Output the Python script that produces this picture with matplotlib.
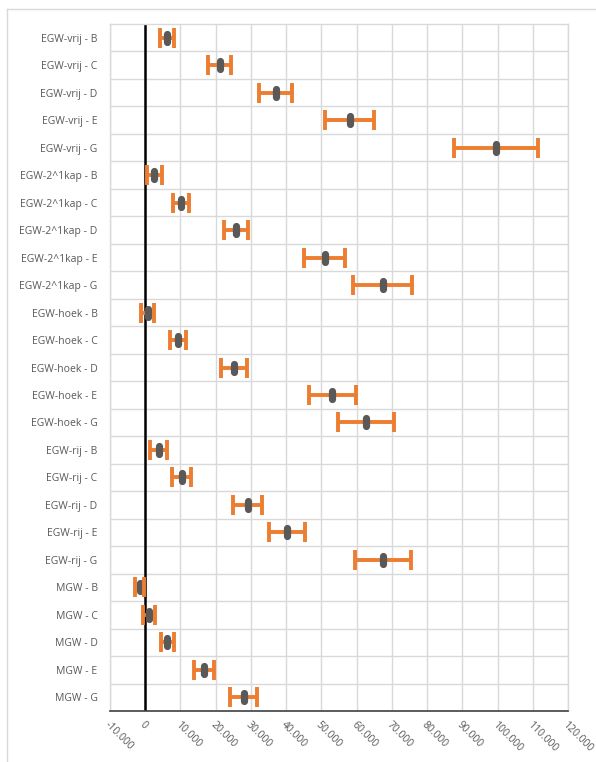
import matplotlib
matplotlib.use("Agg")
import matplotlib.pyplot as plt
from matplotlib.lines import Line2D
from matplotlib.markers import MarkerStyle
from matplotlib.ticker import FuncFormatter

# Categorieën (van boven naar beneden)
labels = [
    "EGW-vrij - B", "EGW-vrij - C", "EGW-vrij - D", "EGW-vrij - E", "EGW-vrij - G",
    "EGW-2^1kap - B", "EGW-2^1kap - C", "EGW-2^1kap - D", "EGW-2^1kap - E", "EGW-2^1kap - G",
    "EGW-hoek - B", "EGW-hoek - C", "EGW-hoek - D", "EGW-hoek - E", "EGW-hoek - G",
    "EGW-rij - B", "EGW-rij - C", "EGW-rij - D", "EGW-rij - E", "EGW-rij - G",
    "MGW - B", "MGW - C", "MGW - D", "MGW - E", "MGW - G",
]

# Gemiddelde waarden
means = [
    6200, 21100, 37000, 58000, 99500,
    2600, 10100, 25700, 50900, 67400,
    700, 9400, 25200, 53100, 62700,
    3800, 10300, 29100, 40200, 67600,
    -1600, 1100, 6300, 16700, 27900,
]

# Foutmarges (+/-)
errors = [
    2100, 3200, 4700, 6850, 11850,
    2100, 2200, 3400, 5800, 8300,
    1850, 2300, 3650, 6650, 7900,
    2400, 2750, 4100, 5150, 7950,
    1250, 1800, 1950, 2900, 3800,
]

xticks = list(range(-10000, 120001, 10000))

orange = "#ED7D31"
grey = "#595959"
grid_col = "#D9D9D9"

fig = plt.figure(figsize=(5.96, 7.62), dpi=100)
ax = fig.add_axes([110 / 596, 51 / 762, 458 / 596, 687 / 762])

ypos = list(range(len(labels)))

# Foutbalken
eb = ax.errorbar(means, ypos, xerr=errors, fmt="none", ecolor=orange,
                 elinewidth=2.8, capsize=7, capthick=2.8, zorder=3)
for cap in eb[1]:
    cap.set_zorder(5)

# Markers
marker = MarkerStyle("|", capstyle="round")
ax.plot(means, ypos, linestyle="none", marker=marker, markersize=6,
        markeredgewidth=5.2, color=grey, zorder=4)

# Nul-lijn
ax.axvline(0, color="black", linewidth=1.8, zorder=2)

ax.set_xlim(-10000, 120000)
ax.set_ylim(len(labels) - 0.5, -0.5)

ax.set_xticks(xticks)
ax.xaxis.set_major_formatter(FuncFormatter(lambda v, p: f"{int(v):,}".replace(",", ".")))
ax.set_yticks(ypos)
ax.set_yticklabels(labels)
ax.set_yticks([y + 0.5 for y in ypos[:-1]], minor=True)

ax.grid(axis="x", which="major", color=grid_col, linewidth=1.0, zorder=0)
ax.grid(axis="y", which="minor", color=grid_col, linewidth=1.0, zorder=0)
ax.set_axisbelow(True)

ax.tick_params(axis="both", which="both", length=0, colors=grey, labelsize=7.5)
ax.tick_params(axis="y", pad=9)
ax.tick_params(axis="x", pad=6)
for t in ax.get_xticklabels():
    t.set_rotation(-45)
    t.set_ha("left")
    t.set_va("top")
    t.set_rotation_mode("anchor")
for t in ax.get_yticklabels() + ax.get_xticklabels():
    t.set_fontfamily("Open Sans")

for side in ["left", "top", "right"]:
    ax.spines[side].set_color(grid_col)
    ax.spines[side].set_linewidth(1.0)
ax.spines["bottom"].set_color("#404040")
ax.spines["bottom"].set_linewidth(1.2)

# Kader rond de grafiek
fig.add_artist(Line2D([7 / 596, 7 / 596], [0, 1 - 9 / 762], color=grid_col, linewidth=1.0))
fig.add_artist(Line2D([7 / 596, 1], [1 - 9 / 762, 1 - 9 / 762], color=grid_col, linewidth=1.0))

fig.savefig("out.png", dpi=100, facecolor="white")
